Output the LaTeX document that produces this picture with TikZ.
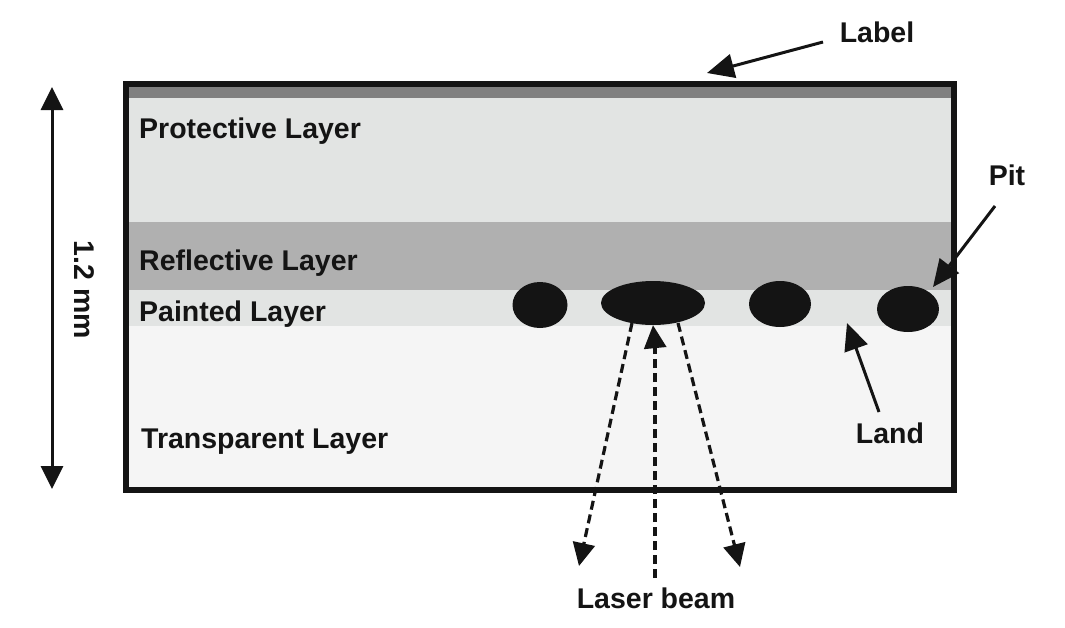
\documentclass[tikz,border=0pt]{standalone}
\usepackage{fontspec}
\setmainfont{Liberation Sans}
\usetikzlibrary{arrows.meta,shapes.geometric}
\definecolor{labelgray}{HTML}{808080}
\definecolor{protgray}{HTML}{E2E4E3}
\definecolor{reflgray}{HTML}{B0B0B0}
\definecolor{transgray}{HTML}{F5F5F5}
\definecolor{inkblack}{HTML}{141414}
\begin{document}
\begin{tikzpicture}[x=1pt,y=-1pt,
  txt/.style={font=\fontsize{28.5}{34}\selectfont\bfseries, text=inkblack, inner sep=0pt},
  pitshape/.style={ellipse, fill=inkblack, draw=none, inner sep=0pt},
  pointer/.style={draw=inkblack, line width=3pt, -{Triangle[length=27pt,width=24pt]}},
  beam/.style={draw=inkblack, line width=3.2pt, dash pattern=on 9pt off 5pt},
  beamtip/.style={-{Triangle[length=23pt,width=22pt]}}
]
\useasboundingbox (0,0) rectangle (1065,627);
% layers
\fill[labelgray] (126,84) rectangle (954,98);
\fill[protgray] (126,98) rectangle (954,222);
\fill[reflgray] (126,222) rectangle (954,290);
\fill[protgray] (126,290) rectangle (954,326);
\fill[transgray] (126,326) rectangle (954,490);
\draw[inkblack, line width=5.5pt] (126,84) rectangle (954,490);
% layer texts
\node[txt, anchor=base west] (prot) at (139,138) {Protective Layer};
\node[txt, anchor=base west] (refl) at (139,270) {Reflective Layer};
\node[txt, anchor=base west] (paint) at (139,321) {Painted Layer};
\node[txt, anchor=base west] (trans) at (141,448) {Transparent Layer};
% pits
\node[pitshape, minimum width=55pt, minimum height=46pt] (pit1) at (540,305) {};
\node[pitshape, minimum width=104pt, minimum height=44pt] (pit2) at (653,303) {};
\node[pitshape, minimum width=62pt, minimum height=46pt] (pit3) at (780,304) {};
\node[pitshape, minimum width=62pt, minimum height=46pt] (pit4) at (908,309) {};
% labels outside
\node[txt, anchor=base] (labeltxt) at (877,42) {Label};
\node[txt, anchor=base] (pittxt) at (1007,185) {Pit};
\node[txt, anchor=base] (landtxt) at (890,443) {Land};
\node[txt, anchor=base] (lasertxt) at (656,608) {Laser beam};
\node[txt, rotate=-90] (dimtxt) at (84,290) {1.2 mm};
% pointer coordinates
\coordinate (labelfrom) at (823,42);
\coordinate (labelto) at (707,73);
\coordinate (pitfrom) at (995,206);
\coordinate (pitto) at (933,287);
\coordinate (landfrom) at (879,412);
\coordinate (landto) at (847,323);
\coordinate (dimtop) at (52,87);
\coordinate (dimbot) at (52,489);
\draw[pointer] (labelfrom) -- (labelto);
\draw[pointer] (pitfrom) -- (pitto);
\draw[pointer] (landfrom) -- (landto);
\draw[draw=inkblack, line width=3pt, {Triangle[length=23pt,width=22pt]}-{Triangle[length=23pt,width=22pt]}] (dimtop) -- (dimbot);
% laser beam
\coordinate (beamstart) at (655,578);
\coordinate (leftfrom) at (632,323);
\coordinate (leftto) at (579,566);
\coordinate (rightfrom) at (678,323);
\coordinate (rightto) at (740,567);
\draw[beam] (beamstart) -- (655,345);
\draw[inkblack, line width=3.2pt, beamtip] (655,346) -- (pit2.south);
\draw[beam, beamtip] (leftfrom) -- (leftto);
\draw[beam, beamtip] (rightfrom) -- (rightto);
\end{tikzpicture}
\end{document}
